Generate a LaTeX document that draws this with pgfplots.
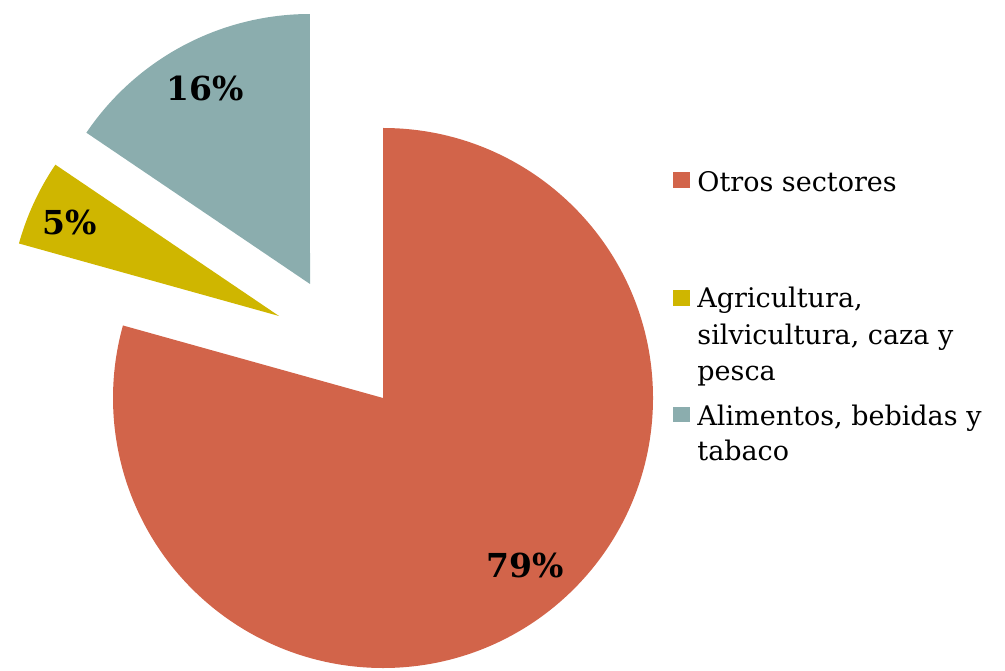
\documentclass[border=0pt]{standalone}
\usepackage{pgfplots}
\pgfplotsset{compat=1.18}
\usepackage{pgfplotstable}
\usepackage{fontspec}
\setmainfont{DejaVu Serif}
\definecolor{cOtros}{RGB}{210,100,74}
\definecolor{cAgri}{RGB}{207,182,0}
\definecolor{cAlim}{RGB}{139,173,174}
\pgfplotstableread{
sector value
Otros 79.33
Agri 5.14
Alim 15.53
}\piedata
\begin{document}
\begin{tikzpicture}
\pgfplotstablegetelem{0}{value}\of\piedata \global\let\vA\pgfplotsretval
\pgfplotstablegetelem{1}{value}\of\piedata \global\let\vB\pgfplotsretval
\pgfplotstablegetelem{2}{value}\of\piedata \global\let\vC\pgfplotsretval
\pgfmathsetmacro\total{\vA+\vB+\vC}
\pgfmathsetmacro\aA{90}
\pgfmathsetmacro\aB{90-360*(\vA/\total)}
\pgfmathsetmacro\aC{\aB-360*(\vB/\total)}
\pgfmathsetmacro\aD{\aC-360*(\vC/\total)}
\begin{axis}[width=502.5pt,height=335pt,scale only axis,
  xmin=0,xmax=1005,ymin=0,ymax=670,hide axis,clip=false]
\path (axis cs:0,0) rectangle (axis cs:1005,670);
% slices (centres in pixel units, radius 270px = 135pt)
\fill[cOtros] (axis cs:383,272) -- ++(\aA:135pt) arc[start angle=\aA,end angle=\aB,radius=135pt] -- cycle;
\fill[cAgri] (axis cs:279,354) -- ++(\aB:135pt) arc[start angle=\aB,end angle=\aC,radius=135pt] -- cycle;
\fill[cAlim] (axis cs:310,386) -- ++(\aC:135pt) arc[start angle=\aC,end angle=\aD,radius=135pt] -- cycle;
% percentage labels
\node[font=\bfseries\fontsize{16.5}{19}\selectfont] at (axis cs:525,105) {79\%};
\node[font=\bfseries\fontsize{16.5}{19}\selectfont] at (axis cs:70,448) {5\%};
\node[font=\bfseries\fontsize{16.5}{19}\selectfont] at (axis cs:205,582) {16\%};
% legend
\fill[cOtros] (axis cs:673,482) rectangle (axis cs:690,498);
\fill[cAgri] (axis cs:673,364) rectangle (axis cs:690,380);
\fill[cAlim] (axis cs:673,248) rectangle (axis cs:690,263);
\begin{scope}[every node/.style={anchor=base west,inner sep=0pt,font=\fontsize{13.5}{16}\selectfont}]
\node at (axis cs:697,478) {Otros sectores};
\node at (axis cs:697,363) {Agricultura,};
\node at (axis cs:697,326) {silvicultura, caza y};
\node at (axis cs:697,290) {pesca};
\node at (axis cs:697,245) {Alimentos, bebidas y};
\node at (axis cs:697,210) {tabaco};
\end{scope}
\end{axis}
\end{tikzpicture}
\end{document}
